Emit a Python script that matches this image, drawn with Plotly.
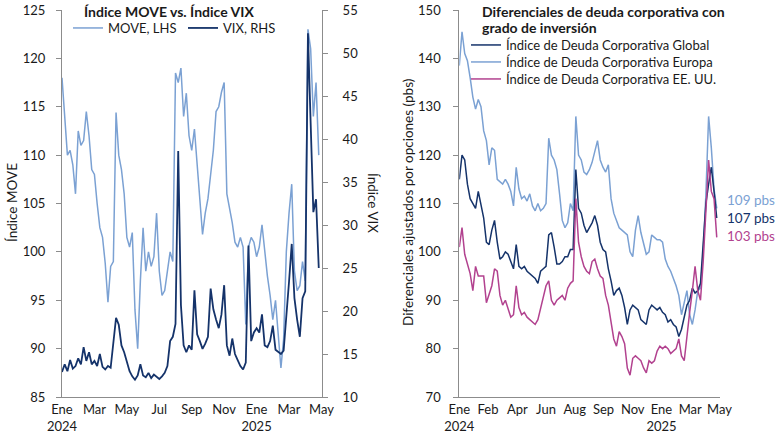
import plotly.graph_objects as go
import pandas as pd

# ---------------- data ----------------
dates = pd.date_range("2024-01-02", periods=96, freq="5D")

move = [118, 114, 110, 110.5, 109, 106, 112.5, 111, 111.5, 114.5,
        112, 108.5, 108, 105, 102.5, 101.5, 98.8, 94.8, 98.5, 99,
        114.4, 110, 108.5, 106, 101.5, 100.5, 102, 94, 90, 97,
        102.5, 98, 100, 98.5, 99.5, 104, 98, 95.5, 96, 98,
        100, 99, 118.5, 117.5, 119, 114, 116.4, 112, 110.5, 112.7,
        109, 106, 101.8, 104, 105.5, 108, 110.5, 114.5, 115, 116.5,
        117.5, 106, 104.5, 103, 101, 100.5, 101.5, 100.5, 92.5, 100.5,
        101.5, 101, 99.5, 100.5, 102.8, 100, 97.5, 95.5, 93, 95,
        91, 88, 91, 100, 104, 107, 98, 96, 96.5, 99,
        97, 123, 121, 114, 117.5, 110]

vix = [12.9, 13.8, 13.0, 14.3, 13.3, 13.6, 14.5, 13.8, 15.8, 14.2,
       15.2, 13.8, 14.2, 13.6, 15.0, 13.5, 13.2, 13.6, 13.4, 16.0,
       19.2, 18.4, 16.0, 15.2, 14.0, 13.0, 12.4, 12.0, 12.5, 13.8,
       12.5, 12.3, 12.8, 12.2, 12.6, 12.4, 12.1, 12.4, 12.8, 13.6,
       16.5, 17.0, 18.5, 38.6, 20.7, 16.0, 15.2, 16.0, 15.5, 22.4,
       17.3, 16.5, 15.6, 16.2, 17.0, 22.6, 20.2, 19.0, 18.0, 19.6,
       23.0, 16.0, 14.8, 16.8, 15.0, 14.3, 13.6, 13.2, 14.0, 27.6,
       16.5, 17.5, 18.0, 17.5, 19.6, 16.0, 15.8, 16.5, 18.3, 15.5,
       15.3, 15.0, 15.4, 19.0, 23.4, 27.8, 21.5, 19.0, 17.0, 21.5,
       22.3, 52.3, 40.5, 31.5, 33.0, 25.0]

glob = [115, 120, 119, 114, 111, 110, 109, 112.5, 109.5, 107,
        102, 101.5, 104.5, 106.5, 102, 98.5, 99, 100, 99.5, 98,
        96.5, 101.5, 97, 96.5, 97, 96, 95.5, 95, 94.5, 93.5,
        96, 96.5, 97, 103.5, 104, 101, 97.5, 97.5, 98, 99,
        99, 100.5, 100.5, 117, 109, 108, 105.5, 104, 105, 106,
        107.5, 105.5, 102, 100.5, 100, 96.5, 94, 91, 92, 92.5,
        91, 88.5, 85, 88, 89, 88.5, 88, 86, 85.5, 85,
        88, 89, 88.5, 88, 88.5, 87.5, 87, 85.5, 86, 85,
        84.5, 82.5, 84, 86.5, 89, 90, 92.5, 91.5, 92, 93.5,
        101, 110, 114, 117.5, 112.5, 107]

europa = [138.5, 145.5, 141, 139.5, 136, 132, 129.5, 131.5, 130, 125,
          123, 118, 121.5, 121, 115, 114.5, 114, 115, 114, 112.5,
          109.5, 117.5, 113, 111, 111.5, 110.5, 112, 109.5, 108.5, 110,
          108.5, 109, 110, 123.5, 120, 119, 117, 112, 106.5, 105,
          106, 110, 108.5, 128, 120, 119, 116.5, 116, 117, 118.5,
          121, 123, 119, 117.5, 116.5, 118, 111, 108, 106.5, 105,
          104.5, 104, 103.5, 100, 99, 104.5, 107.5, 104, 101.5, 99.5,
          100, 103.5, 103, 102.5, 102.5, 102, 98.5, 97, 96, 94.5,
          93, 91, 87, 89.5, 92, 87, 85, 88, 92, 92.5,
          100, 112, 128, 121.5, 113, 109]

usa = [101, 105, 99.5, 97.5, 95.5, 92, 97, 95, 95, 95,
       89.5, 91.5, 93, 96.5, 96, 91, 89, 90, 88, 86.5,
       87, 93, 88.5, 87, 87.5, 86.5, 86, 85.5, 85, 86,
       88.5, 91, 93, 94, 90, 89, 90, 90.5, 91, 90,
       92.5, 93.5, 94, 111, 102, 99, 97, 96, 95.5, 98,
       98.5, 96.5, 95, 94.5, 91, 89, 85.5, 82, 80.5, 83.5,
       82.5, 81, 76, 74.5, 78, 78.5, 78, 77.5, 76, 75,
       77.5, 77, 77.5, 79.5, 80.5, 80, 80.5, 80, 79, 79.5,
       80, 82, 78.5, 77.5, 83, 87.5, 92, 97, 92, 90,
       98, 108, 119, 112.5, 111, 103]

left_tick_dates = ["2024-01-02", "2024-03-02", "2024-05-01", "2024-06-30", "2024-08-29",
                   "2024-10-28", "2024-12-27", "2025-02-25", "2025-04-26"]
left_tick_text = ["Ene<br>2024", "Mar", "May", "Jul", "Sep", "Nov", "Ene<br>2025", "Mar", "May"]
right_tick_dates = ["2024-01-02", "2024-02-24", "2024-04-18", "2024-06-10", "2024-08-02",
                    "2024-09-24", "2024-11-17", "2025-01-09", "2025-03-03", "2025-04-26"]
right_tick_text = ["Ene<br>2024", "Feb", "Apr", "Jun", "Aug", "Sep", "Nov", "Ene<br>2025", "Mar", "May"]
end_labels = ["109 pbs", "107 pbs", "103 pbs"]

# ---------------- style ----------------
LIGHT = "#7ba1d3"
NAVY = "#15336a"
MAG = "#b2428f"
AX = "#8c8c8c"
TXT = "#1a1a1a"
FONT = "Lato"
W, H = 780, 440

def px_x(p):
    return p / W

def px_y(p):
    return (H - p) / H

fig = go.Figure()

fig.add_trace(go.Scatter(x=dates, y=move, name="MOVE, LHS", mode="lines",
                         line=dict(color=LIGHT, width=1.5), xaxis="x", yaxis="y",
                         legend="legend"))
fig.add_trace(go.Scatter(x=dates, y=vix, name="VIX, RHS", mode="lines",
                         line=dict(color=NAVY, width=1.8), xaxis="x", yaxis="y2",
                         legend="legend2"))
fig.add_trace(go.Scatter(x=dates, y=europa, name="Índice de Deuda Corporativa Europa", mode="lines",
                         line=dict(color=LIGHT, width=1.5), xaxis="x2", yaxis="y3",
                         legend="legend4"))
fig.add_trace(go.Scatter(x=dates, y=glob, name="Índice de Deuda Corporativa Global", mode="lines",
                         line=dict(color=NAVY, width=1.5), xaxis="x2", yaxis="y3",
                         legend="legend3"))
fig.add_trace(go.Scatter(x=dates, y=usa, name="Índice de Deuda Corporativa EE. UU.", mode="lines",
                         line=dict(color=MAG, width=1.5), xaxis="x2", yaxis="y3",
                         legend="legend5"))

xr = ["2024-01-02", "2025-04-27"]
ydom = [px_y(397), px_y(10)]
tickfont = dict(family=FONT, size=13, color=TXT)

common_x = dict(type="date", range=xr, showgrid=False, zeroline=False, showline=True,
                linecolor=AX, linewidth=1, ticks="", tickfont=tickfont, tickangle=0,
                automargin=False)
common_y = dict(showgrid=False, zeroline=False, showline=True, linecolor=AX, linewidth=1,
                ticks="outside", ticklen=5, tickcolor=AX, tickfont=tickfont, domain=ydom,
                automargin=False)

def leg(xp, yp):
    return dict(orientation="v", x=px_x(xp), y=px_y(yp), xanchor="left", yanchor="middle",
                bgcolor="rgba(0,0,0,0)", font=dict(family=FONT, size=13, color=TXT),
                itemwidth=30, tracegroupgap=0, borderwidth=0, visible=True)

fig.update_layout(
    template="none",
    showlegend=True,
    width=W, height=H, margin=dict(l=0, r=0, t=0, b=0, autoexpand=False),
    paper_bgcolor="white", plot_bgcolor="white",
    font=dict(family=FONT, size=13, color=TXT),
    xaxis=dict(common_x, domain=[px_x(62), px_x(322)], anchor="y",
               tickmode="array", tickvals=left_tick_dates, ticktext=left_tick_text),
    yaxis=dict(common_y, range=[85, 125], dtick=5, tick0=85, anchor="x",
               ticklabelstandoff=8),
    yaxis2=dict(common_y, range=[10, 55], dtick=5, tick0=10, overlaying="y", side="right",
                anchor="x", ticklabelstandoff=12),
    xaxis2=dict(common_x, domain=[px_x(459.3), px_x(720)], anchor="y3",
                tickmode="array", tickvals=right_tick_dates, ticktext=right_tick_text),
    yaxis3=dict(common_y, range=[70, 150], dtick=10, tick0=70, anchor="x2",
                ticklabelstandoff=10),
    legend=leg(68, 28),
    legend2=leg(183, 28),
    legend3=leg(466, 45),
    legend4=leg(466, 62),
    legend5=leg(466, 79),
)

ann = [
    dict(text="<b>Índice MOVE vs. Índice VIX</b>", x=px_x(82), y=px_y(12),
         xanchor="left", yanchor="middle", font=dict(size=14)),
    dict(text="<b>Diferenciales de deuda corporativa con</b>",
         x=px_x(480), y=px_y(12), xanchor="left", yanchor="middle", font=dict(size=14)),
    dict(text="<b>grado de inversión</b>",
         x=px_x(480), y=px_y(27.5), xanchor="left", yanchor="middle", font=dict(size=14)),
    dict(text="Índice MOVE", x=px_x(12), y=px_y(203), textangle=-90,
         xanchor="center", yanchor="middle", font=dict(size=13.5)),
    dict(text="Índice VIX", x=px_x(373), y=px_y(203), textangle=90,
         xanchor="center", yanchor="middle", font=dict(size=13.5)),
    dict(text="Diferenciales ajustados por opciones (pbs)", x=px_x(408), y=px_y(203),
         textangle=-90, xanchor="center", yanchor="middle", font=dict(size=13.5)),
    dict(text=end_labels[0], x=px_x(725), y=px_y(200), xanchor="left", yanchor="middle",
         font=dict(size=13.5, color=LIGHT)),
    dict(text=end_labels[1], x=px_x(725), y=px_y(218), xanchor="left", yanchor="middle",
         font=dict(size=13.5, color=NAVY)),
    dict(text=end_labels[2], x=px_x(725), y=px_y(236), xanchor="left", yanchor="middle",
         font=dict(size=13.5, color=MAG)),
]
for a in ann:
    a.update(xref="paper", yref="paper", showarrow=False)
    a["font"] = dict(dict(family=FONT, color=TXT), **a["font"])
fig.update_layout(annotations=ann)

fig.write_html("out.html", config={"displayModeBar": False},
               post_script="document.body.style.margin='0';document.body.style.overflow='hidden';")
